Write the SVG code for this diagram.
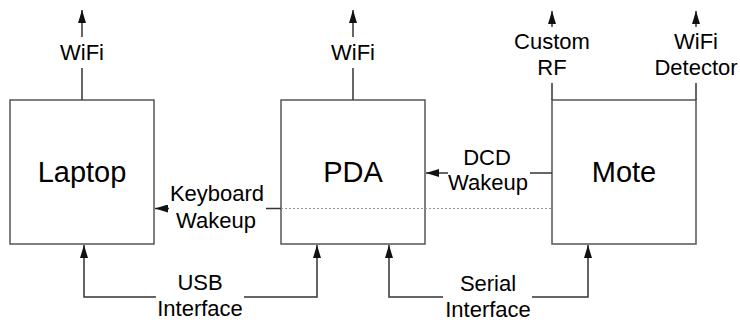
<svg xmlns="http://www.w3.org/2000/svg" width="740" height="322" viewBox="0 0 740 322">
  <style>
    .box { fill: #fff; stroke: #555; stroke-width: 1.5; }
    .big { font-family: "Liberation Sans", Arial, sans-serif; font-size: 29px; fill: #000; text-anchor: middle; }
    .lbl { font-family: "Liberation Sans", Arial, sans-serif; font-size: 22px; fill: #000; text-anchor: middle; }
    .wire { fill: none; stroke: #333; stroke-width: 1.5; }
    .dots { fill: none; stroke: #999; stroke-width: 1; stroke-dasharray: 2 2; }
  </style>
  <defs>
    <marker id="head" markerUnits="userSpaceOnUse" markerWidth="13" markerHeight="8" refX="13" refY="4" orient="auto">
      <path d="M0,0 L13,4 L0,8 z" fill="#111"/>
    </marker>
  </defs>
  <rect width="740" height="322" fill="#fff"/>

  <g id="laptop">
    <rect class="box" x="10" y="100" width="144" height="144"/>
    <text class="big" x="82" y="182">Laptop</text>
  </g>
  <g id="pda">
    <rect class="box" x="281" y="100" width="144" height="144"/>
    <text class="big" x="353" y="182">PDA</text>
  </g>
  <g id="mote">
    <rect class="box" x="552" y="100" width="144" height="144"/>
    <text class="big" x="624" y="182">Mote</text>
  </g>

  <g id="connectors">
    <!-- radio links leaving the top of each device -->
    <line class="wire" x1="82" y1="100" x2="82" y2="68"/>
    <line class="wire" x1="82" y1="37" x2="82" y2="10" marker-end="url(#head)"/>
    <text class="lbl" x="82" y="60">WiFi</text>

    <line class="wire" x1="353" y1="100" x2="353" y2="68"/>
    <line class="wire" x1="353" y1="37" x2="353" y2="10" marker-end="url(#head)"/>
    <text class="lbl" x="353" y="60">WiFi</text>

    <line class="wire" x1="552" y1="100" x2="552" y2="83"/>
    <line class="wire" x1="552" y1="27" x2="552" y2="11" marker-end="url(#head)"/>
    <text class="lbl" x="552" y="49">Custom</text>
    <text class="lbl" x="552" y="75">RF</text>

    <line class="wire" x1="696" y1="100" x2="696" y2="83"/>
    <line class="wire" x1="696" y1="27" x2="696" y2="11" marker-end="url(#head)"/>
    <text class="lbl" x="696" y="49">WiFi</text>
    <text class="lbl" x="696" y="75">Detector</text>

    <!-- wakeup lines -->
    <line class="dots" x1="281" y1="208.5" x2="552" y2="208.5"/>
    <line class="wire" x1="281" y1="208.5" x2="266" y2="208.5"/>
    <line class="wire" x1="169" y1="208.5" x2="155" y2="208.5" marker-end="url(#head)"/>
    <text class="lbl" x="217" y="201">Keyboard</text>
    <text class="lbl" x="216" y="228">Wakeup</text>

    <line class="wire" x1="552" y1="173" x2="530" y2="173"/>
    <line class="wire" x1="448" y1="173" x2="426" y2="173" marker-end="url(#head)"/>
    <text class="lbl" x="487" y="165">DCD</text>
    <text class="lbl" x="488" y="190">Wakeup</text>

    <!-- wired interfaces below -->
    <polyline class="wire" points="156,297 84,297 84,245" marker-end="url(#head)"/>
    <polyline class="wire" points="244,297 317,297 317,245" marker-end="url(#head)"/>
    <text class="lbl" x="200" y="290">USB</text>
    <text class="lbl" x="200" y="316">Interface</text>

    <polyline class="wire" points="443,297 389,297 389,245" marker-end="url(#head)"/>
    <polyline class="wire" points="532,297 588,297 588,245" marker-end="url(#head)"/>
    <text class="lbl" x="488" y="291">Serial</text>
    <text class="lbl" x="488" y="317">Interface</text>
  </g>
</svg>
